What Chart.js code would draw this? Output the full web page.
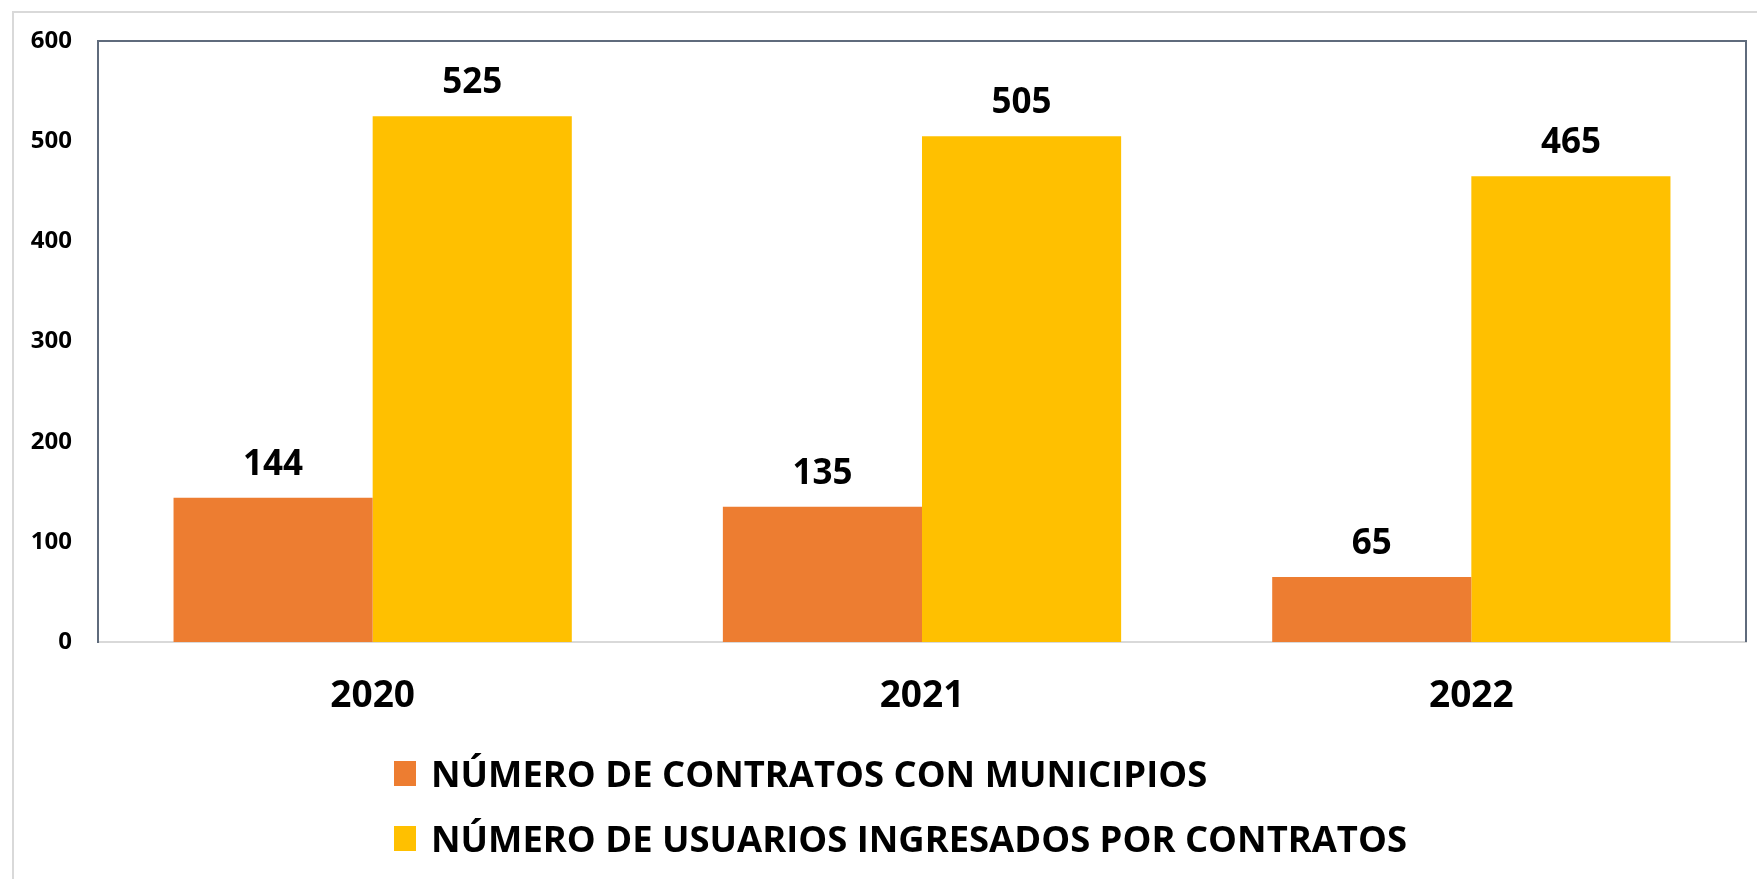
<!DOCTYPE html>
<html lang="es">
<head>
<meta charset="utf-8">
<title>Contratos con municipios</title>
<script src="https://cdn.jsdelivr.net/npm/chart.js@4.4.1/dist/chart.umd.min.js"></script>
<style>
  html, body { margin: 0; padding: 0; background: #ffffff; overflow: hidden; }
  #frame {
    position: absolute; left: 12px; top: 11px; width: 1800px; height: 900px;
    border: 2px solid #d9d9d9; box-sizing: border-box;
  }
  #wrap { position: absolute; left: 0; top: 0; width: 1757px; height: 879px; }
  #legend {
    position: absolute; left: 394px; top: 753px;
    font-family: "Open Sans", sans-serif; font-weight: bold; font-size: 36.4px; color: #000;
  }
  .legend-row { display: flex; align-items: center; height: 40px; margin-bottom: 25px; white-space: nowrap; }
  .legend-box { width: 22px; height: 25px; margin-right: 15px; }
</style>
</head>
<body>
<div id="frame"></div>
<div id="wrap"><canvas id="contratosChart" width="1757" height="879"></canvas></div>
<div id="legend"></div>

<script>
// Datos del gráfico
const years = ["2020", "2021", "2022"];
const contratos = [144, 135, 65];
const usuarios = [525, 505, 465];
const seriesNames = [
  "NÚMERO DE CONTRATOS CON MUNICIPIOS",
  "NÚMERO DE USUARIOS INGRESADOS POR CONTRATOS",
];
const seriesColors = ["#ED7D31", "#FFC000"];
const yTicks = [0, 100, 200, 300, 400, 500, 600];

// Marco superior y derecho del área del gráfico
const plotFrame = {
  id: "plotFrame",
  afterDraw(chart) {
    const { ctx, chartArea } = chart;
    ctx.save();
    ctx.strokeStyle = "#5f6b7c";
    ctx.lineWidth = 2;
    ctx.beginPath();
    ctx.moveTo(chartArea.left, chartArea.top);
    ctx.lineTo(chartArea.right, chartArea.top);
    ctx.lineTo(chartArea.right, chartArea.bottom);
    ctx.stroke();
    ctx.restore();
  },
};

// Etiquetas de valores encima de las barras
const valueLabels = {
  id: "valueLabels",
  afterDatasetsDraw(chart) {
    const ctx = chart.ctx;
    ctx.save();
    ctx.font = "bold 35px 'Open Sans', sans-serif";
    ctx.fillStyle = "#000";
    ctx.textAlign = "center";
    ctx.textBaseline = "middle";
    chart.data.datasets.forEach((ds, i) => {
      chart.getDatasetMeta(i).data.forEach((bar, j) => {
        ctx.fillText(ds.data[j], bar.x, bar.y - 33);
      });
    });
    ctx.restore();
  },
};

document.addEventListener("DOMContentLoaded", function () {
  buildChart();
  buildLegend();
});

function buildChart() {
  const ctx = document.getElementById("contratosChart").getContext("2d");
  new Chart(ctx, {
    type: "bar",
    data: {
      labels: years,
      datasets: [
        {
          label: seriesNames[0],
          data: contratos,
          backgroundColor: seriesColors[0],
          categoryPercentage: 0.725,
          barPercentage: 1.0,
        },
        {
          label: seriesNames[1],
          data: usuarios,
          backgroundColor: seriesColors[1],
          categoryPercentage: 0.725,
          barPercentage: 1.0,
        },
      ],
    },
    options: {
      responsive: false,
      animation: false,
      layout: { padding: { top: 41, right: 11, bottom: 159, left: 0 } },
      plugins: {
        legend: { display: false },
        tooltip: { enabled: false },
      },
      scales: {
        x: {
          grid: { display: false, drawTicks: false },
          border: { display: true, color: "#d9d9d9", width: 2 },
          ticks: {
            color: "#000",
            padding: 32,
            font: { family: "'Open Sans', sans-serif", size: 37, weight: "bold" },
          },
          afterFit(scale) { scale.height = 78; },
        },
        y: {
          min: 0,
          max: 600,
          afterBuildTicks(scale) { scale.ticks = yTicks.map((v) => ({ value: v })); },
          grid: { display: false, drawTicks: false },
          border: { display: true, color: "#5f6b7c", width: 2 },
          ticks: {
            color: "#000",
            padding: 26,
            font: { family: "'Open Sans', sans-serif", size: 24, weight: "bold" },
          },
          afterFit(scale) { scale.width = 98; },
        },
      },
    },
    plugins: [plotFrame, valueLabels],
  });
}

// Leyenda en HTML, una serie por línea
function buildLegend() {
  const legend = document.getElementById("legend");
  seriesNames.forEach((name, i) => {
    const row = document.createElement("div");
    row.className = "legend-row";
    const box = document.createElement("span");
    box.className = "legend-box";
    box.style.background = seriesColors[i];
    const text = document.createElement("span");
    text.textContent = name;
    row.appendChild(box);
    row.appendChild(text);
    legend.appendChild(row);
  });
}
</script>
</body>
</html>
